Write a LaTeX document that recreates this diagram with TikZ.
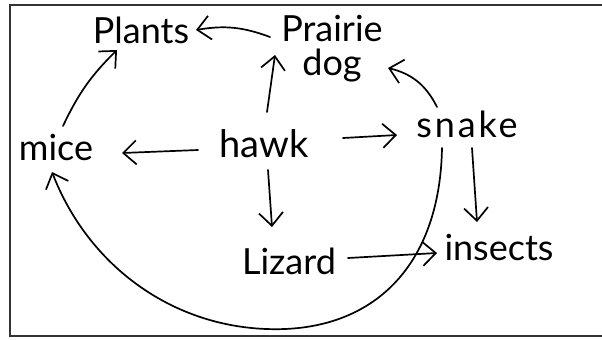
\documentclass[tikz,border=0pt]{standalone}
\usepackage{fontspec}
\setmainfont{Lato}
\usetikzlibrary{arrows.meta}
\begin{document}
\begin{tikzpicture}[x=1bp,y=-1bp,
  lbl/.style={inner sep=0pt, anchor=base, font=\fontsize{36bp}{30bp}\selectfont},
  arr/.style={line width=1.7bp, line cap=round, line join=round,
    -{Straight Barb[length=13bp,width=24bp]}}
]
\useasboundingbox (0,0) rectangle (602,339);
\draw[line width=2.2bp, color=black!80] (602,5) -- (10,5) -- (10,336) -- (602,336);

\node[lbl] (plants) at (141,43) {Plants};
\node[lbl, align=center, font=\fontsize{36bp}{34bp}\selectfont] (prairie) at (332,75) {Prairie\\dog};
\node[lbl, font=\fontsize{38bp}{38bp}\selectfont] (hawk) at (264,157) {hawk};
\node[lbl] (mice) at (56,160) {mice};
\node[lbl] (snake) at (467,137) {\addfontfeature{LetterSpace=8}snake};
\node[lbl] (lizard) at (289,274) {Lizard};
\node[lbl] (insects) at (499,260) {insects};

\draw[arr] ([shift={(-62,-38)}]prairie.base) to[bend right=15] ([shift={(55,-13)}]plants.base);
\draw[arr] ([shift={(7,-34)}]mice.base) to[bend left=10] ([shift={(-24,7)}]plants.base);
\draw[arr] ([shift={(3,-45)}]hawk.base) -- ([shift={(-57,-20)}]prairie.base);
\draw[arr] ([shift={(-66,-7)}]hawk.base) -- ([shift={(66,-7)}]mice.base);
\draw[arr] ([shift={(79,-19)}]hawk.base) -- ([shift={(-70,-2)}]snake.base);
\draw[arr] ([shift={(4,13)}]hawk.base) -- ([shift={(-17,-47)}]lizard.base);
\draw[arr] ([shift={(-30,-30)}]snake.base) to[bend right=25] ([shift={(56,-7)}]prairie.base);
\draw[arr] ([shift={(5,11)}]snake.base) -- ([shift={(-22,-38)}]insects.base);
\draw[arr] ([shift={(59,-16)}]lizard.base) -- ([shift={(-62,-7)}]insects.base);
\draw[arr] ([shift={(-25,11)}]snake.base) .. controls (440,260) and (380,325) .. (285,329)
  .. controls (180,333) and (90,270) .. ([shift={(-4,12)}]mice.base);
\end{tikzpicture}
\end{document}
